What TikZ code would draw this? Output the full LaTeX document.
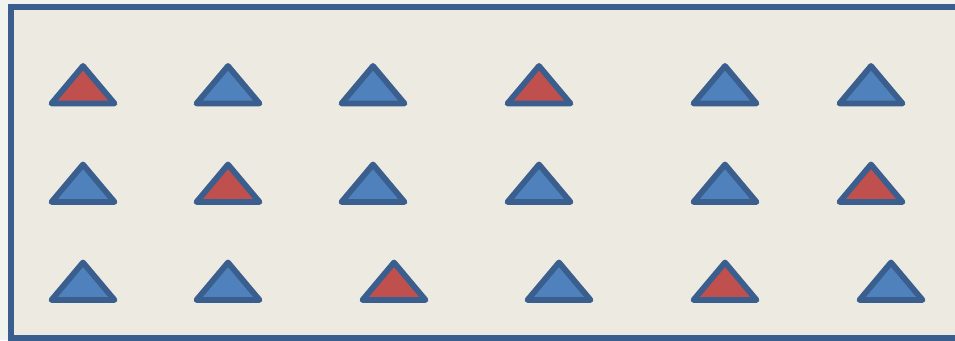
\documentclass[tikz,border=0pt]{standalone}
\definecolor{outbg}{HTML}{F0F3EE}
\definecolor{panel}{HTML}{EDEBE1}
\definecolor{edge}{HTML}{3A5F8E}
\definecolor{tblue}{HTML}{4F81BD}
\definecolor{tred}{HTML}{C0504D}
\tikzset{
  panelbox/.style={draw=edge, fill=panel, line width=6pt},
  tribox/.style={draw=edge, line width=5.8pt, line join=round}
}
\newcommand\mytri[3]{%
  \path[tribox, fill=#3] (#1-31.5,#2) -- (#1,#2-37.5) -- (#1+31.5,#2) -- cycle;}
\begin{document}
\begin{tikzpicture}[x=1pt,y=-1pt]
\useasboundingbox (0,0) rectangle (955,340);
\fill[outbg] (0,0) rectangle (955,340);
\clip (0,0) rectangle (955,340);
\path[panelbox] (11,7) rectangle (975,338);
% row 1
\mytri{83}{103.5}{tred}
\mytri{228}{103.5}{tblue}
\mytri{373}{103.5}{tblue}
\mytri{539}{103.5}{tred}
\mytri{725}{103.5}{tblue}
\mytri{871}{103.5}{tblue}
% row 2
\mytri{83}{202}{tblue}
\mytri{228}{202}{tred}
\mytri{373}{202}{tblue}
\mytri{539}{202}{tblue}
\mytri{725}{202}{tblue}
\mytri{871}{202}{tred}
% row 3
\mytri{83}{300}{tblue}
\mytri{228}{300}{tblue}
\mytri{394}{300}{tred}
\mytri{559}{300}{tblue}
\mytri{725}{300}{tred}
\mytri{891}{300}{tblue}
\end{tikzpicture}
\end{document}
